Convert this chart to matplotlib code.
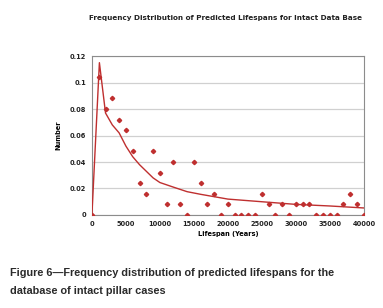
import matplotlib
matplotlib.use("Agg")
import matplotlib.pyplot as plt

# observed frequencies (points)
life = [0, 1000, 2000, 3000, 4000, 5000, 6000, 7000, 8000, 9000, 10000,
        11000, 12000, 13000, 14000, 15000, 16000, 17000, 18000, 19000, 20000,
        21000, 22000, 23000, 24000, 25000, 26000, 27000, 28000, 29000, 30000,
        31000, 32000, 33000, 34000, 35000, 36000, 37000, 38000, 39000, 40000]
freq = [0, 0.104, 0.08, 0.088, 0.072, 0.064, 0.048, 0.024, 0.016, 0.048, 0.032,
        0.008, 0.04, 0.008, 0, 0.04, 0.024, 0.008, 0.016, 0, 0.008,
        0, 0, 0, 0, 0.016, 0.008, 0, 0.008, 0, 0.008,
        0.008, 0.008, 0, 0, 0, 0, 0.008, 0.016, 0.008, 0]

# fitted curve
fit_x = [0, 1100, 2000, 3000, 4000, 5000, 6000, 7000, 8000, 9000, 10000,
         12000, 14000, 16000, 18000, 20000, 25000, 30000, 35000, 40000]
fit_y = [0, 0.115, 0.077, 0.068, 0.062, 0.052, 0.044, 0.038, 0.033, 0.028, 0.0245,
         0.021, 0.0176, 0.0156, 0.0138, 0.012, 0.010, 0.008, 0.0068, 0.0053]

xticks = [0, 5000, 10000, 15000, 20000, 25000, 30000, 35000, 40000]
yticks = [0, 0.02, 0.04, 0.06, 0.08, 0.1, 0.12]
ytick_labels = ["0", "0.02", "0.04", "0.06", "0.08", "0.1", "0.12"]

red = "#bf2f2f"

fig = plt.figure(figsize=(3.83, 3.08), dpi=100)
ax = fig.add_axes([0.240, 0.302, 0.710, 0.516])

ax.plot(fit_x, fit_y, color=red, lw=1.0, zorder=3)
ax.plot(life, freq, linestyle="none", marker="D", ms=2.2, color=red, zorder=4)

ax.set_xlim(0, 40000)
ax.set_ylim(0, 0.12)
ax.set_xticks(xticks)
ax.set_xticklabels([str(v) for v in xticks], fontsize=4.8, fontweight="bold", color="#222222")
ax.set_yticks(yticks)
ax.set_yticklabels(ytick_labels, fontsize=4.8, fontweight="bold", color="#222222")
ax.tick_params(length=0, pad=4)
ax.grid(axis="y", color="#d0d0d0", lw=0.9)
ax.set_axisbelow(True)
for s in ax.spines.values():
    s.set_color("#8c8c8c")
    s.set_linewidth(0.8)

ax.set_xlabel("Lifespan (Years)", fontsize=4.8, fontweight="bold", labelpad=3)
ax.set_ylabel("Number", fontsize=4.8, fontweight="bold", labelpad=6)

fig.text(0.59, 0.94, "Frequency Distribution of Predicted Lifespans for Intact Data Base",
         ha="center", va="center", fontsize=5.2, fontweight="bold", color="#222222")

cap = dict(ha="left", va="baseline", fontsize=7.8, fontweight="bold",
           family="Liberation Sans", color="#2a2a2a")
fig.text(0.026, 0.104, "Figure 6\u2014Frequency distribution of predicted lifespans for the", **cap)
fig.text(0.026, 0.045, "database of intact pillar cases", **cap)

fig.savefig("out.png", dpi=100)
